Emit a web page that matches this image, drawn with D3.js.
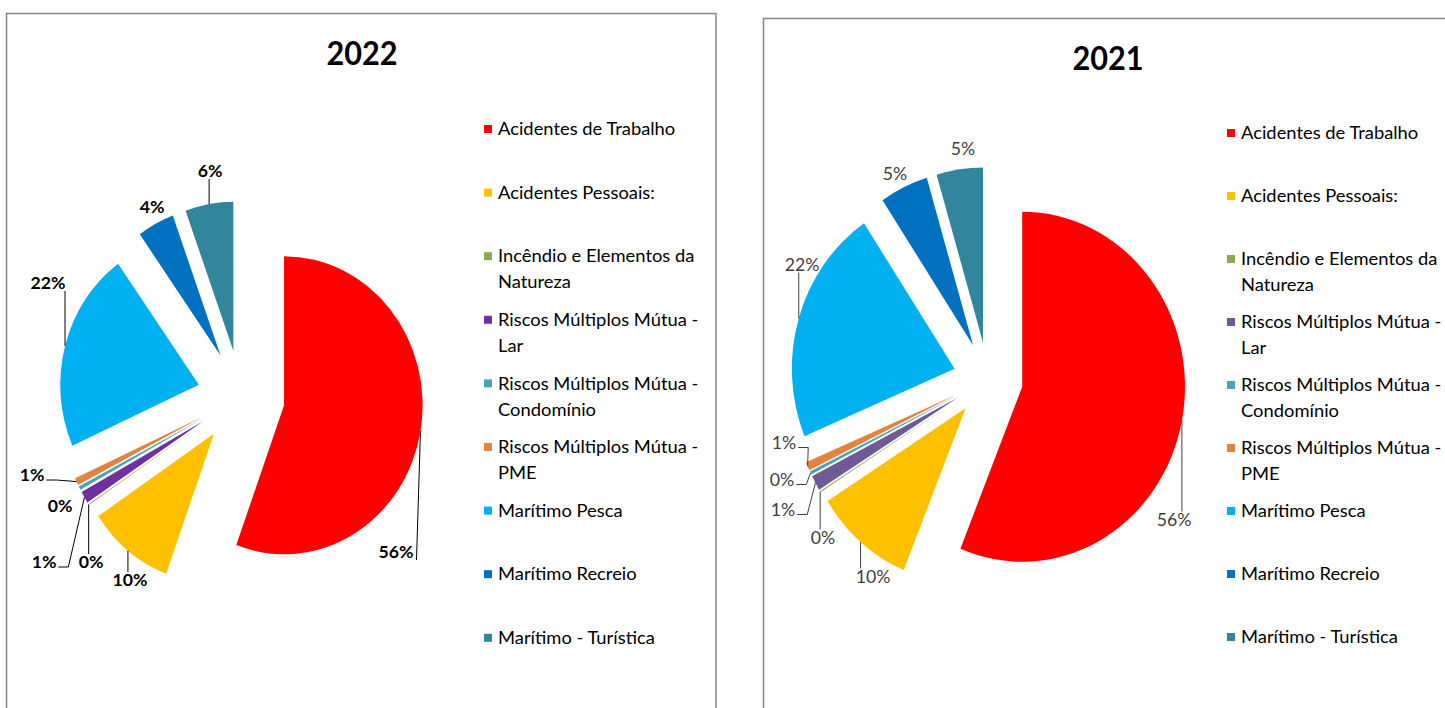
<!DOCTYPE html>
<html>
<head>
<meta charset="utf-8">
<script src="https://cdn.jsdelivr.net/npm/d3@7"></script>
<style>
  html, body { margin: 0; padding: 0; background: #fff; }
  svg { display: block; font-family: Lato, "Noto Sans", sans-serif; }
</style>
</head>
<body>
<svg id="chart" width="1445" height="708"></svg>
<script>
// categories and shares (%)
const categories = [
    "Acidentes de Trabalho",
    "Acidentes Pessoais:",
    "Incêndio e Elementos da Natureza",
    "Riscos Múltiplos Mútua - Lar",
    "Riscos Múltiplos Mútua - Condomínio",
    "Riscos Múltiplos Mútua - PME",
    "Marítimo Pesca",
    "Marítimo Recreio",
    "Marítimo - Turística"
];
const values2022 = [55.6, 10.1, 0.1, 1.3, 0.4, 0.8, 21.8, 4.3, 5.6];
const values2021 = [56.2, 9.9, 0.1, 1.4, 0.3, 0.8, 21.9, 4.8, 4.6];
const titles = ["2022", "2021"];

const colors2022 = ["#ff0000", "#ffc000", "#8ca94f", "#7030a0", "#4aa3bd", "#e0843f", "#00b0f0", "#0070c0", "#31859c"];
const colors2021 = ["#ff0000", "#ffc000", "#8ca94f", "#705a95", "#4aa3bd", "#e0843f", "#00b0f0", "#0070c0", "#31859c"];

// the source picture is squeezed horizontally (pies are ellipses)
const SX = 0.93;
// horizontal text scales so Lato matches the widths of the original font
const TITLE_SX = 0.93, LABEL_SX = 1.04, LEGEND_SX = 1.08;

const svg = d3.select("#chart");

const charts = [
    {
        title: titles[0], values: values2022, colors: colors2022,
        frame: [6.5, 13.5, 709.5, 720],
        titleAt: [362, 53], titleSize: 33,
        cx: 241, cy: 397, r: 149, explode: 47,
        labelWeight: "bold", labelColor: "#000", leaderColor: "#000",
        // label centres relative to pie centre
        labelPos: [[155, 155], [-111, 183], [-150, 165], [-197, 165], [-181, 109], [-209, 78], [-193, -114], [-89, -190], [-31, -226]],
        legend: {sq: 484, x: 498, y0: 129, step: 63.6}
    },
    {
        title: titles[1], values: values2021, colors: colors2021,
        frame: [763.5, 18.5, 720, 720],
        titleAt: [1108, 58], titleSize: 33,
        cx: 988, cy: 379.5, r: 175, explode: 37.5,
        labelWeight: "normal", labelColor: "#404040", leaderColor: "#404040",
        labelPos: [[186, 140], [-115, 197], [-165, 158], [-205, 130], [-206, 100], [-204, 63], [-186, -115], [-93, -206], [-25, -231]],
        legend: {sq: 1227, x: 1241, y0: 133, step: 63}
    }
];

const pie = d3.pie().sort(null).value(d => d);

const squeezedText = (g, x, y, txt, sx) =>
    g.append("text")
        .attr("transform", `translate(${x},${y}) scale(${sx},1)`)
        .text(txt);

charts.forEach(c => {
    const g = svg.append("g");

    g.append("rect")
        .attr("x", c.frame[0]).attr("y", c.frame[1])
        .attr("width", c.frame[2]).attr("height", c.frame[3])
        .attr("fill", "#fff")
        .attr("stroke", "#868686")
        .attr("stroke-width", 1.5);

    squeezedText(g, c.titleAt[0], c.titleAt[1], c.title, TITLE_SX)
        .attr("text-anchor", "middle")
        .attr("dominant-baseline", "central")
        .attr("font-size", c.titleSize)
        .attr("font-weight", "bold")
        .attr("fill", "#000");

    const arcs = pie(c.values);
    const arc = d3.arc().innerRadius(0).outerRadius(c.r);
    const mid = d => (d.startAngle + d.endAngle) / 2;

    const pg = g.append("g")
        .attr("transform", `translate(${c.cx},${c.cy}) scale(${SX},1)`);

    pg.selectAll("path")
        .data(arcs)
        .join("path")
        .attr("transform", d => `translate(${c.explode * Math.sin(mid(d))},${-c.explode * Math.cos(mid(d))})`)
        .attr("d", arc)
        .attr("fill", (d, i) => c.colors[i]);

    // data labels + leader lines
    const R = c.r + c.explode;
    arcs.forEach((d, i) => {
        const a = mid(d);
        const px = c.cx + R * Math.sin(a) * SX;
        const py = c.cy - R * Math.cos(a);
        const lx = c.cx + c.labelPos[i][0];
        const ly = c.cy + c.labelPos[i][1];

        const t = squeezedText(g, lx, ly, Math.round(c.values[i]) + "%", LABEL_SX)
            .attr("text-anchor", "middle")
            .attr("dominant-baseline", "central")
            .attr("font-size", 17)
            .attr("font-weight", c.labelWeight)
            .attr("fill", c.labelColor);

        const bb = t.node().getBBox();
        const w = bb.width * LABEL_SX;
        const box = {l: lx - w / 2, r: lx + w / 2, t: ly - 8, b: ly + 8};

        const dx = Math.max(box.l - px, 0, px - box.r);
        const dy = Math.max(box.t - py, 0, py - box.b);
        if (Math.hypot(dx, dy) < 14) return;

        let pts;
        if (px >= box.l && px <= box.r) {
            pts = [[px, py], [px, py < box.t ? box.t : box.b]];
        } else if (px > box.r && px - box.r < 10) {
            pts = [[px, py], [box.r + 3, box.b]];
        } else if (px > box.r) {
            pts = [[px, py], [box.r + 12, ly + 5], [box.r + 2, ly + 5]];
        } else {
            pts = [[px, py], [box.l - 12, ly + 5], [box.l - 2, ly + 5]];
        }
        g.append("path")
            .attr("d", d3.line()(pts))
            .attr("fill", "none")
            .attr("stroke", c.leaderColor)
            .attr("stroke-width", 1);
    });

    // legend
    const lg = g.append("g");
    categories.forEach((name, i) => {
        const y = c.legend.y0 + i * c.legend.step;
        lg.append("rect")
            .attr("x", c.legend.sq).attr("y", y - 4)
            .attr("width", 8).attr("height", 8)
            .attr("fill", c.colors[i]);

        // wrap words to the legend width
        const words = name.split(" ");
        const lines = [];
        let line = [];
        const probe = squeezedText(lg, 0, -100, "", LEGEND_SX).attr("font-size", 17);
        words.forEach(wd => {
            const test = line.concat(wd).join(" ");
            probe.text(test);
            if (line.length && probe.node().getComputedTextLength() * LEGEND_SX > 212) {
                lines.push(line.join(" "));
                line = [wd];
            } else {
                line.push(wd);
            }
        });
        lines.push(line.join(" "));
        probe.remove();

        lines.forEach((ln, j) => {
            squeezedText(lg, c.legend.x, y + j * 26, ln, LEGEND_SX)
                .attr("dominant-baseline", "central")
                .attr("font-size", 17)
                .attr("fill", "#000");
        });
    });
});
</script>
</body>
</html>
